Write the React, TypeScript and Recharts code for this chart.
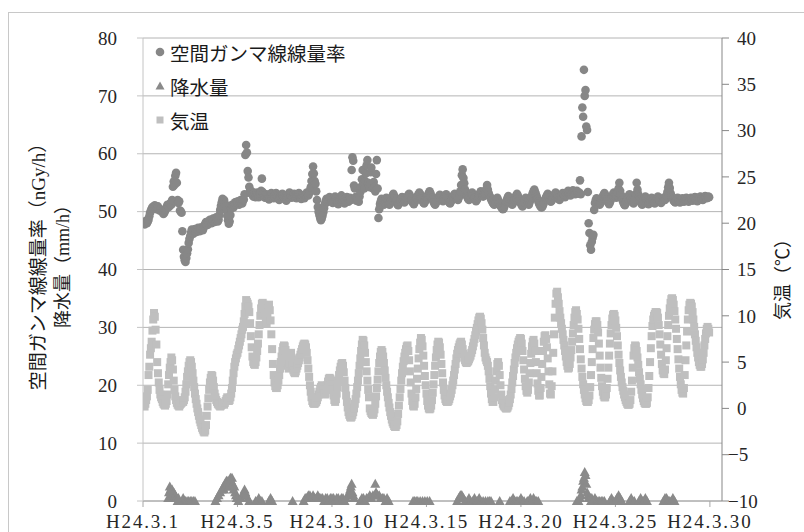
import { ScatterChart, Scatter, XAxis, YAxis, CartesianGrid } from 'recharts';

// hourly readings, one row per day, starting H24.3.1 0:00
const gammaByDay: number[][] = [
  [48.0, 48.2, 47.8, 48.1, 48.4, 48.0, 48.3, 48.6, 49.2, 49.8, 50.2, 50.5, 50.8, 50.6, 50.9, 51.1, 50.7, 50.4, 50.6, 50.9, 50.5, 50.2, 50.4, 50.1],
  [50.2, 49.9, 49.6, 49.8, 50.1, 50.4, 50.8, 51.2, 51.0, 50.8, 51.3, 51.5, 51.2, 52.0, 54.3, 55.2, 54.6, 56.2, 56.7, 55.0, 52.0, 51.5, 51.8, 50.2],
  [50.0, 49.8, 46.6, 43.4, 42.2, 41.6, 41.3, 42.0, 42.8, 43.5, 44.6, 45.3, 45.8, 46.4, 46.9, 46.6, 46.2, 46.7, 47.0, 46.8, 46.5, 46.9, 47.2, 46.9],
  [46.6, 47.0, 47.3, 47.1, 46.8, 47.2, 47.6, 47.9, 48.2, 48.0, 47.7, 48.1, 48.4, 48.6, 48.3, 48.0, 48.4, 48.8, 48.5, 48.2, 48.6, 49.0, 48.7, 48.3],
  [48.6, 49.4, 50.3, 51.0, 51.6, 52.2, 51.8, 52.0, 51.4, 50.8, 50.2, 49.3, 48.5, 47.9, 48.3, 49.4, 50.6, 51.2, 51.0, 50.7, 51.2, 51.6, 51.3, 51.7],
  [51.5, 51.8, 51.2, 51.6, 52.0, 51.7, 51.4, 51.9, 52.1, 53.0, 59.8, 61.5, 60.2, 57.0, 55.9, 54.3, 53.6, 53.2, 53.5, 53.0, 52.6, 53.1, 52.8, 52.5],
  [52.8, 53.3, 52.9, 52.5, 52.9, 53.2, 53.6, 55.7, 53.4, 53.0, 52.6, 52.4, 52.7, 53.0, 52.8, 52.4, 52.1, 52.5, 52.9, 53.2, 52.9, 52.6, 52.3, 52.7],
  [53.0, 53.2, 52.8, 52.5, 52.2, 52.0, 52.3, 52.6, 52.9, 53.1, 52.8, 52.5, 52.3, 52.1, 51.9, 52.2, 52.6, 53.0, 53.3, 53.1, 52.7, 52.4, 52.6, 52.9],
  [53.1, 52.8, 52.5, 52.3, 52.6, 52.9, 53.2, 52.8, 52.4, 52.2, 52.5, 52.8, 52.6, 52.3, 52.7, 53.0, 53.3, 53.1, 52.8, 53.2, 53.6, 54.2, 55.3, 56.5],
  [57.8, 56.6, 55.3, 54.8, 53.5, 52.0, 50.8, 50.0, 49.4, 48.9, 48.5, 48.8, 49.3, 49.9, 50.6, 51.3, 51.8, 52.2, 52.0, 51.7, 52.1, 52.5, 52.3, 52.0],
  [51.8, 51.5, 51.9, 52.3, 52.6, 52.2, 51.8, 51.5, 51.3, 51.7, 52.1, 52.5, 52.8, 52.4, 52.0, 51.6, 51.4, 51.8, 52.2, 52.5, 52.1, 51.7, 52.0, 52.4],
  [52.0, 57.2, 59.4, 58.8, 54.5, 54.0, 52.5, 51.9, 52.3, 52.0, 51.7, 52.6, 53.4, 54.3, 55.6, 57.2, 54.8, 54.0, 55.3, 56.6, 58.0, 58.9, 55.0, 54.5],
  [54.2, 56.8, 57.6, 54.6, 54.0, 55.1, 54.3, 53.5, 56.5, 58.9, 54.0, 48.9, 50.4, 51.3, 51.8, 52.2, 51.8, 51.5, 51.2, 51.6, 52.0, 52.4, 52.1, 51.7],
  [51.4, 51.2, 51.6, 52.0, 52.4, 52.8, 53.1, 52.7, 52.3, 51.9, 51.6, 51.3, 51.1, 51.4, 51.7, 52.0, 52.3, 52.5, 52.2, 51.9, 51.6, 51.8, 52.1, 52.4],
  [52.6, 52.9, 53.1, 52.8, 52.4, 52.0, 51.7, 51.5, 51.3, 51.6, 51.9, 52.2, 52.5, 52.8, 53.0, 53.3, 53.0, 52.6, 52.3, 51.9, 51.6, 51.4, 51.7, 52.0],
  [52.3, 52.6, 52.9, 53.2, 53.5, 53.2, 52.8, 52.4, 52.0, 51.7, 51.4, 51.2, 51.5, 51.8, 52.1, 52.4, 52.7, 52.9, 52.6, 52.3, 52.0, 51.8, 52.1, 52.4],
  [52.7, 53.0, 52.6, 52.2, 51.9, 51.6, 51.4, 51.7, 52.0, 52.3, 52.6, 52.9, 53.1, 52.8, 52.5, 52.2, 52.0, 52.4, 52.8, 53.5, 54.6, 56.3, 57.3, 55.8],
  [54.9, 53.8, 53.2, 52.8, 52.5, 52.2, 52.0, 52.3, 52.7, 53.0, 53.3, 53.0, 52.7, 52.4, 52.1, 51.8, 52.0, 52.3, 52.6, 52.9, 53.2, 53.5, 53.2, 52.9],
  [52.6, 52.9, 53.2, 53.5, 53.9, 54.6, 53.8, 53.2, 52.8, 52.5, 52.2, 51.9, 51.6, 51.4, 51.2, 51.5, 51.8, 52.1, 52.4, 52.0, 51.6, 51.3, 51.0, 50.8],
  [50.6, 50.4, 50.5, 50.9, 51.3, 51.7, 52.0, 52.4, 52.7, 52.4, 52.0, 51.7, 51.4, 51.2, 51.5, 51.8, 52.1, 52.5, 52.8, 53.1, 52.8, 52.4, 52.0, 51.7],
  [51.4, 51.1, 50.9, 51.2, 51.6, 52.0, 52.4, 52.1, 51.8, 51.5, 51.2, 51.6, 52.0, 52.4, 52.8, 53.2, 53.5, 53.8, 53.4, 53.0, 52.6, 52.2, 51.8, 51.4],
  [51.1, 50.9, 50.7, 50.8, 51.1, 51.5, 51.9, 52.2, 52.5, 52.8, 53.1, 52.8, 52.4, 52.0, 51.7, 51.9, 52.2, 52.5, 52.8, 53.0, 53.3, 53.0, 52.7, 52.4],
  [52.2, 52.0, 52.3, 52.6, 52.9, 53.2, 53.0, 52.7, 52.5, 52.8, 53.1, 53.4, 53.6, 53.3, 53.0, 52.8, 53.1, 53.4, 53.7, 53.5, 53.2, 53.0, 53.3, 53.6],
  [53.4, 53.1, 53.3, 55.4, 53.0, 63.0, 68.0, 66.4, 74.5, 70.0, 71.0, 64.7, 64.1, 53.4, 48.0, 46.3, 44.2, 43.4, 44.8, 45.5, 46.0, 50.3, 51.5, 52.0],
  [52.3, 52.0, 51.7, 51.4, 51.2, 51.5, 51.9, 52.3, 52.6, 52.9, 53.2, 52.9, 52.5, 52.1, 51.8, 51.5, 51.3, 51.6, 52.0, 52.4, 52.7, 53.0, 53.3, 53.0],
  [52.7, 52.4, 52.8, 53.3, 54.0, 55.0, 53.6, 52.9, 52.4, 52.0, 51.6, 51.3, 51.1, 51.4, 51.8, 52.2, 52.5, 52.8, 53.0, 52.7, 52.3, 51.9, 51.6, 51.4],
  [51.7, 52.2, 53.0, 55.0, 53.8, 53.0, 52.5, 52.1, 51.7, 51.4, 51.2, 51.5, 51.9, 52.3, 52.6, 52.3, 51.9, 51.6, 51.3, 51.5, 51.8, 52.1, 52.4, 52.2],
  [51.9, 51.6, 51.4, 51.7, 52.0, 52.3, 52.6, 52.3, 52.0, 51.7, 51.5, 51.8, 52.1, 52.4, 52.2, 52.0, 52.3, 52.8, 53.4, 54.2, 55.0, 54.1, 53.2, 52.8],
  [52.5, 52.2, 51.9, 51.7, 51.6, 51.9, 52.2, 52.4, 52.1, 51.8, 51.6, 51.8, 52.1, 52.3, 52.0, 51.7, 51.9, 52.2, 52.4, 52.2, 51.9, 51.7, 52.0, 52.2],
  [52.4, 52.1, 51.9, 52.0, 52.2, 52.5, 52.3, 52.0, 51.8, 52.0, 52.3, 52.5, 52.6, 52.4, 52.2, 52.0, 52.3, 52.5, 52.7, 52.5, 52.3, 52.4, 52.6, 52.5],
];

const tempByDay: number[][] = [
  [0.8, 0.4, 0.2, 0.5, 0.9, 1.3, 2.0, 3.6, 4.5, 5.8, 6.5, 7.2, 8.4, 9.6, 10.3, 9.9, 8.5, 6.9, 5.0, 3.8, 2.8, 2.0, 1.5, 1.2],
  [1.0, 0.7, 0.5, 0.4, 0.3, 0.5, 0.8, 1.5, 2.6, 3.6, 4.4, 5.0, 5.5, 5.2, 4.2, 3.0, 2.0, 1.3, 0.9, 0.6, 0.4, 0.3, 0.2, 0.4],
  [0.5, 0.6, 0.8, 0.7, 0.9, 1.2, 1.8, 2.6, 3.4, 4.0, 4.6, 5.0, 5.2, 5.0, 4.5, 3.8, 3.0, 2.3, 1.6, 1.0, 0.5, 0.0, -0.4, -0.8],
  [-1.2, -1.5, -1.8, -2.1, -2.3, -2.5, -2.6, -2.4, -1.8, -0.8, 0.2, 1.1, 2.0, 2.8, 3.3, 3.6, 3.5, 3.0, 2.3, 1.6, 1.2, 0.9, 0.7, 0.5],
  [0.4, 0.3, 0.2, 0.3, 0.4, 0.6, 0.5, 0.4, 0.6, 0.8, 1.0, 1.2, 1.0, 0.8, 0.9, 1.2, 1.6, 2.2, 3.0, 3.8, 4.5, 5.0, 5.4, 5.8],
  [6.0, 6.4, 6.8, 7.2, 7.6, 8.0, 8.5, 8.8, 9.4, 10.2, 11.0, 11.7, 11.5, 11.3, 11.0, 10.4, 9.2, 7.8, 6.6, 5.6, 5.0, 4.8, 4.7, 5.0],
  [5.5, 6.2, 7.0, 8.0, 9.0, 10.0, 10.8, 11.3, 11.4, 11.2, 10.8, 10.2, 9.6, 9.2, 10.0, 10.8, 11.2, 10.6, 9.5, 8.0, 6.4, 4.8, 3.6, 2.8],
  [2.4, 2.2, 2.2, 2.5, 3.0, 3.6, 4.3, 5.0, 5.6, 6.2, 6.6, 6.8, 6.7, 6.3, 5.6, 5.0, 4.6, 4.3, 4.8, 5.5, 6.0, 5.4, 4.6, 4.1],
  [3.9, 3.8, 4.0, 4.3, 4.6, 4.9, 5.2, 5.5, 5.8, 6.1, 6.4, 6.7, 6.9, 7.0, 6.9, 6.6, 6.0, 5.2, 4.3, 3.4, 2.5, 1.8, 1.2, 0.8],
  [0.6, 0.5, 0.5, 0.6, 0.7, 0.9, 1.2, 1.5, 1.8, 2.1, 2.3, 2.5, 2.3, 2.0, 1.7, 1.5, 1.6, 2.0, 2.5, 2.9, 3.2, 3.3, 3.2, 3.0],
  [2.6, 2.0, 1.4, 0.9, 0.7, 1.0, 1.6, 2.3, 3.0, 3.6, 4.1, 4.5, 4.8, 4.9, 4.6, 3.9, 3.0, 2.2, 1.4, 0.7, 0.1, -0.4, -0.7, -0.9],
  [-1.0, -0.9, -0.7, -0.4, 0.0, 0.5, 1.0, 1.6, 2.3, 3.0, 3.8, 4.6, 5.4, 6.2, 6.9, 7.4, 7.3, 6.8, 6.0, 5.0, 4.0, 3.0, 2.0, 1.2],
  [0.0, -0.3, -0.5, -0.6, -0.7, -0.5, -0.1, 0.5, 1.3, 2.2, 3.1, 4.0, 4.9, 5.6, 6.1, 6.3, 6.1, 5.6, 4.9, 4.1, 3.3, 2.5, 1.8, 1.2],
  [0.6, 0.1, -0.4, -0.8, -1.2, -1.5, -1.7, -1.9, -2.0, -2.0, -1.8, -1.4, -0.6, 0.3, 1.2, 2.1, 3.0, 3.8, 4.5, 5.1, 5.6, 6.0, 6.4, 6.7],
  [6.8, 6.2, 5.2, 4.0, 2.8, 1.6, 0.8, 0.3, 0.2, 0.5, 1.2, 2.1, 3.2, 4.3, 5.4, 6.4, 7.1, 7.6, 7.4, 6.7, 5.7, 4.6, 3.5, 2.5],
  [1.6, 0.8, 0.3, 0.0, -0.1, 0.0, 0.3, 0.9, 1.7, 2.6, 3.6, 4.6, 5.5, 6.3, 6.9, 7.2, 7.1, 6.6, 5.8, 4.8, 3.8, 2.8, 2.0, 1.4],
  [1.0, 0.8, 0.7, 0.7, 0.8, 1.0, 1.3, 1.6, 2.0, 2.5, 3.0, 3.6, 4.2, 4.8, 5.4, 5.9, 6.3, 6.6, 6.9, 7.1, 7.2, 6.9, 6.4, 5.9],
  [5.5, 5.2, 5.0, 4.9, 5.0, 5.1, 5.3, 5.5, 5.7, 6.0, 6.3, 6.7, 7.1, 7.5, 7.9, 8.3, 8.7, 9.1, 9.5, 9.8, 9.9, 9.7, 9.2, 8.5],
  [7.6, 6.8, 6.0, 5.5, 5.2, 5.0, 4.6, 4.0, 3.2, 2.4, 1.6, 1.0, 0.7, 0.7, 1.2, 2.0, 3.0, 4.0, 4.8, 5.0, 4.6, 3.6, 2.5, 1.5],
  [0.9, 0.5, 0.3, 0.2, 0.1, 0.0, 0.0, 0.1, 0.3, 0.6, 1.0, 1.5, 2.1, 2.8, 3.5, 4.2, 4.9, 5.5, 6.0, 6.5, 6.9, 7.2, 7.4, 7.6],
  [7.5, 7.0, 6.2, 5.2, 4.2, 3.2, 2.4, 1.9, 1.7, 2.0, 2.8, 3.8, 4.9, 5.9, 6.7, 7.2, 7.4, 7.0, 6.2, 5.0, 3.8, 2.7, 1.9, 1.4],
  [1.4, 2.2, 3.4, 4.8, 6.2, 7.2, 7.8, 7.9, 7.5, 6.6, 5.4, 4.0, 2.6, 1.6, 1.5, 2.4, 4.0, 6.0, 8.0, 9.8, 11.3, 12.4, 12.6, 12.0],
  [11.3, 10.5, 9.8, 9.2, 8.6, 8.0, 7.4, 6.8, 6.2, 5.6, 5.0, 4.6, 4.3, 4.4, 4.8, 5.5, 6.3, 7.2, 8.1, 9.0, 9.8, 10.4, 10.6, 10.2],
  [9.6, 8.6, 7.5, 6.4, 5.3, 4.3, 3.4, 2.6, 2.0, 1.5, 1.1, 0.8, 0.7, 0.7, 0.9, 1.4, 2.3, 3.6, 5.0, 6.4, 7.6, 8.5, 9.1, 9.4],
  [9.4, 9.0, 8.2, 7.0, 5.7, 4.4, 3.3, 2.4, 1.8, 1.4, 1.2, 1.2, 1.5, 2.2, 3.2, 4.4, 5.7, 7.0, 8.1, 9.0, 9.7, 10.1, 10.2, 10.0],
  [9.5, 8.7, 7.8, 6.8, 5.8, 4.9, 4.1, 3.4, 2.8, 2.3, 1.9, 1.5, 1.2, 0.9, 0.7, 0.5, 0.4, 0.4, 0.5, 0.9, 1.8, 3.0, 4.4, 5.7],
  [6.5, 6.8, 6.7, 6.2, 5.5, 4.7, 3.9, 3.2, 2.6, 2.0, 1.5, 1.1, 0.8, 0.6, 0.5, 0.5, 0.6, 1.2, 2.2, 3.5, 5.0, 6.5, 7.8, 8.9],
  [9.6, 10.0, 10.2, 10.4, 10.4, 10.3, 9.8, 9.0, 8.0, 6.9, 5.8, 4.8, 4.1, 3.8, 3.7, 4.2, 5.2, 6.5, 7.8, 9.0, 10.0, 10.8, 11.4, 11.8],
  [11.9, 11.7, 11.2, 10.5, 9.6, 8.6, 7.5, 6.4, 5.3, 4.3, 3.4, 2.6, 2.0, 1.7, 1.6, 2.2, 3.6, 5.2, 6.8, 8.3, 9.6, 10.6, 11.2, 11.4],
  [11.3, 11.0, 10.4, 9.6, 8.8, 8.0, 7.3, 6.6, 6.0, 5.5, 5.0, 4.7, 4.5, 4.5, 4.8, 5.3, 6.0, 6.8, 7.5, 8.1, 8.6, 8.8, 8.6, 8.2],
];

// [hour since 3/1 0:00, mm] — only hours with a reading
const rainHourly: [number, number][] = [
  [32, 0.5], [33, 1.5], [34, 2.5], [35, 2.0], [36, 1.5], [37, 2.0], [38, 1.0], [39, 1.5], [40, 0.5], [41, 1.0], [42, 0.5], [43, 0.5], [44, 0], [45, 0.5],
  [51, 0.5], [52, 0], [54, 0], [56, 0], [58, 0], [60, 0], [62, 0], [64, 0], [66, 0],
  [92, 0], [94, 0.5], [96, 1.0], [98, 1.5], [100, 2.0], [102, 2.5], [103, 2.0], [104, 3.0], [105, 2.5], [106, 3.5], [107, 3.0], [108, 3.5],
  [109, 2.5], [110, 3.0], [111, 4.0], [112, 3.5], [113, 4.0], [114, 3.0], [115, 2.0], [116, 2.5], [117, 1.5], [118, 1.0], [119, 0.5], [120, 0.5], [121, 0],
  [124, 0.5], [126, 1.0], [128, 1.5], [129, 2.0], [130, 1.5], [131, 1.0], [133, 0.5], [135, 0],
  [143, 0], [145, 0], [147, 0.5], [149, 0], [151, 0], [160, 0], [162, 0.5], [164, 0],
  [190, 0],
  [204, 0], [206, 0.5], [208, 0.5], [210, 1.0], [212, 1.0], [214, 0.5], [216, 1.0], [218, 0.5], [220, 0.5], [222, 1.0], [224, 0.5], [226, 0.5],
  [228, 0.5], [230, 0], [232, 0.5], [234, 0.5], [236, 0], [238, 0.5], [240, 0.5], [242, 0.5], [244, 0], [246, 0.5], [248, 0.5], [250, 0],
  [252, 0.5], [254, 0.5], [256, 0], [258, 0.5], [260, 1.0], [262, 1.0], [263, 2.0], [264, 2.5], [265, 3.0], [266, 1.5], [267, 1.0], [268, 0.5],
  [276, 0], [278, 0.5], [280, 0.5], [282, 0], [284, 0.5], [286, 0.5], [288, 1.0], [290, 0.5], [292, 1.0], [294, 1.0], [295, 3.0], [296, 1.5],
  [298, 1.0], [300, 1.0], [302, 0.5], [304, 0.5], [306, 0.5], [308, 0], [310, 0.5], [312, 0],
  [343, 0], [345, 0], [347, 0], [349, 0], [352, 0], [355, 0], [358, 0], [361, 0], [364, 0],
  [399, 0], [401, 0.5], [403, 1.0], [404, 1.0], [405, 1.0], [407, 0.5], [409, 0], [412, 0], [414, 0.5], [416, 0], [419, 0], [421, 0.5],
  [423, 0], [425, 0], [427, 0.5], [429, 0], [432, 0], [435, 0], [438, 0], [440, 0], [442, 0],
  [453, 0],
  [466, 0], [468, 0], [470, 0.5], [472, 0], [474, 0], [476, 0], [478, 0], [480, 0.5], [482, 0], [484, 0], [488, 0], [490, 0], [492, 0.5],
  [494, 0], [496, 0.5], [498, 0], [500, 0], [502, 0],
  [551, 0], [553, 0], [555, 0.5], [556, 1.0], [557, 2.0], [558, 2.5], [559, 3.5], [560, 4.0], [561, 5.0], [562, 4.5], [563, 3.0], [564, 1.5],
  [565, 1.0], [566, 0.5], [567, 0.5], [568, 0.5], [569, 0], [570, 0.5], [572, 0], [574, 0.5], [576, 0], [578, 0], [580, 0], [582, 0], [584, 0], [586, 0],
  [593, 0], [595, 0.5], [597, 0], [600, 0], [602, 0.5], [604, 1.0], [606, 0.5], [608, 0],
  [618, 0], [620, 0.5], [622, 0], [624, 0], [630, 0], [632, 0.5], [634, 0], [636, 0], [638, 0.5], [640, 0],
  [661, 0], [663, 0.5], [665, 0.5], [667, 0], [669, 0], [671, 0], [673, 0.5], [675, 0],
];

const dateTicks = [0, 5, 10, 15, 20, 25, 30];
const dateLabels = ['H24.3.1', 'H24.3.5', 'H24.3.10', 'H24.3.15', 'H24.3.20', 'H24.3.25', 'H24.3.30'];
const leftTicks = [0, 10, 20, 30, 40, 50, 60, 70, 80];
const rightTicks = [-10, -5, 0, 5, 10, 15, 20, 25, 30, 35, 40];

const gammaData = gammaByDay.flat().map((v, h) => ({ x: h / 24, y: v }));
const tempData = tempByDay.flat().map((v, h) => ({ x: h / 24, y: v }));
const rainData = rainHourly.map(([h, v]) => ({ x: h / 24, y: v }));

const NUM_FONT = "'Liberation Serif', 'DejaVu Serif', serif";
const JP_FONT = "'Liberation Serif', 'Noto Sans CJK JP', sans-serif";
const GAMMA = '#878787';
const RAIN = '#8a8a8a';
const TEMP = '#bfbfbf';

const Dot = (p: any) => <circle cx={p.cx} cy={p.cy} r={4.3} fill={GAMMA} />;
const Tri = (p: any) => (
  <polygon points={`${p.cx},${p.cy - 5} ${p.cx + 5},${p.cy + 4} ${p.cx - 5},${p.cy + 4}`} fill={RAIN} />
);
const Sq = (p: any) => <rect x={p.cx - 4} y={p.cy - 4} width={8} height={8} fill={TEMP} />;

const RightTick = ({ x, y, payload }: any) => {
  const v = payload.value;
  return (
    <text x={v < 0 ? x - 9 : x} y={y} dy="0.355em" textAnchor="start" fontFamily={NUM_FONT} fontSize={19} fill="#262626">
      {v < 0 ? `\u2212${-v}` : v}
    </text>
  );
};

const legendRows = [
  { label: '空間ガンマ線線量率', marker: <circle cx={10} cy={10} r={4.3} fill={GAMMA} />, cy: 52 },
  { label: '降水量', marker: <polygon points="10,5.5 14.5,13.5 5.5,13.5" fill={RAIN} />, cy: 86 },
  { label: '気温', marker: <rect x={6.5} y={6.5} width={7} height={7} fill={TEMP} />, cy: 120 },
];

const rotated = (cx: number, cy: number, size: number): React.CSSProperties => ({
  position: 'absolute',
  left: cx,
  top: cy,
  transform: 'translate(-50%, -50%) rotate(-90deg)',
  whiteSpace: 'nowrap',
  fontFamily: JP_FONT,
  fontSize: size,
  color: '#1a1a1a',
  lineHeight: 1,
});

export default function App() {
  return (
    <div style={{ position: 'absolute', left: 0, top: 0, width: 804, height: 532, overflow: 'hidden', background: '#fff' }}>
      <div
        style={{
          position: 'absolute', left: 8, top: 12, width: 800, height: 530,
          borderTop: '1px solid #c8c8c8', borderLeft: '1px solid #c8c8c8',
        }}
      />
      <div style={{ position: 'absolute', left: 8, top: 12 }}>
        <ScatterChart width={796} height={520} margin={{ top: 26, right: 0, bottom: 0, left: 0 }}>
          <CartesianGrid yAxisId="left" vertical={false} stroke="#b4b4b4" />
          <XAxis
            type="number"
            dataKey="x"
            domain={[0, 30.64]}
            ticks={dateTicks}
            interval={0}
            allowDataOverflow
            tickFormatter={(v: number) => dateLabels[dateTicks.indexOf(v)]}
            height={31}
            tickSize={6}
            tickMargin={8}
            stroke="#a6a6a6"
            tick={{ fill: '#262626', fontSize: 19, fontFamily: NUM_FONT, letterSpacing: 1.8 }}
          />
          <YAxis
            yAxisId="left"
            type="number"
            dataKey="y"
            domain={[0, 80]}
            ticks={leftTicks}
            interval={0}
            width={135}
            tickSize={6}
            tickMargin={20}
            stroke="#c4c4c4"
            tick={{ fill: '#262626', fontSize: 19, fontFamily: NUM_FONT }}
          />
          <YAxis
            yAxisId="right"
            orientation="right"
            type="number"
            dataKey="y"
            domain={[-10, 40]}
            ticks={rightTicks}
            interval={0}
            width={82}
            tickSize={7}
            tickMargin={8}
            stroke="#878787"
            tick={<RightTick />}
          />
          <Scatter name="空間ガンマ線線量率" data={gammaData} yAxisId="left" shape={Dot} isAnimationActive={false} />
          <Scatter name="降水量" data={rainData} yAxisId="left" shape={Tri} isAnimationActive={false} />
          <Scatter name="気温" data={tempData} yAxisId="right" shape={Sq} isAnimationActive={false} />
        </ScatterChart>
      </div>

      {legendRows.map((r) => (
        <div
          key={r.label}
          style={{
            position: 'absolute', left: 150, top: r.cy - 17, height: 34,
            display: 'flex', alignItems: 'center',
            fontFamily: JP_FONT, fontSize: 19.5, color: '#1a1a1a', whiteSpace: 'nowrap',
          }}
        >
          <svg width={20} height={20} style={{ display: 'block' }}>{r.marker}</svg>
          <span>{r.label}</span>
        </div>
      ))}

      <div style={rotated(38, 262, 19)}>空間ガンマ線線量率（nGy/h）</div>
      <div style={rotated(63, 262, 18)}>降水量（mm/h）</div>
      <div style={rotated(783, 275, 18)}>気温（℃）</div>
    </div>
  );
}
